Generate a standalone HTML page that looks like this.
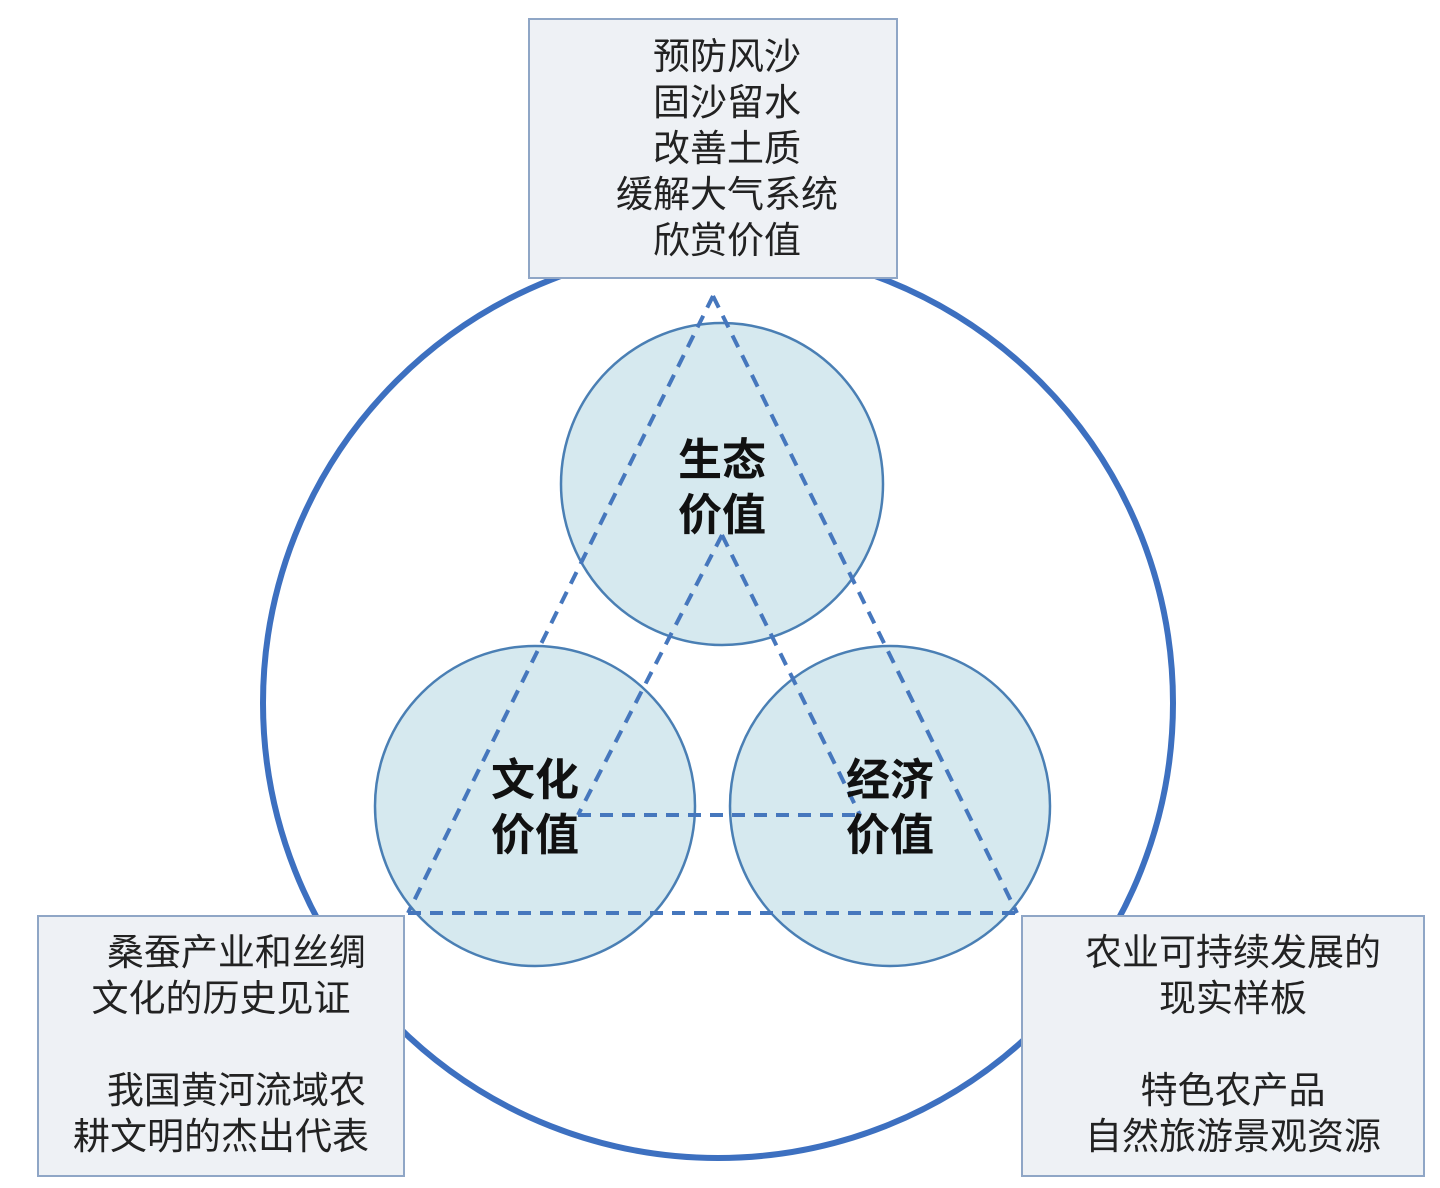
<!DOCTYPE html>
<html><head><meta charset="utf-8"><style>
body{margin:0;background:#fff;width:1440px;height:1188px;overflow:hidden;position:relative;font-family:"Liberation Sans","Noto Sans CJK SC",sans-serif}
.box{position:absolute;background:#eef1f5;border:2px solid #8fa6c6;box-sizing:border-box;color:#222;font-size:37px;line-height:46px;text-align:center}
</style></head><body>
<svg width="1440" height="1188" style="position:absolute;left:0;top:0">
<circle cx="718" cy="703" r="455" fill="none" stroke="#3d70c0" stroke-width="6"/>
<g fill="#d6e9ef" stroke="#4a7fb4" stroke-width="2.5">
<circle cx="722" cy="484" r="161"/>
<circle cx="535" cy="806" r="160"/>
<circle cx="890" cy="806" r="160"/>
</g>
<g fill="none" stroke="#4677bd" stroke-width="4" stroke-dasharray="13 9">
<line x1="713" y1="296" x2="408" y2="913"/>
<line x1="713" y1="296" x2="1017" y2="913"/>
<line x1="408" y1="913" x2="1017" y2="913"/>
<line x1="722" y1="535" x2="578" y2="815"/>
<line x1="722" y1="535" x2="860" y2="815"/>
<line x1="578" y1="815" x2="860" y2="815"/>
</g>
<g font-family="Liberation Sans,Noto Sans CJK SC,sans-serif" font-weight="bold" font-size="44" fill="#111" text-anchor="middle">
<text x="722" y="475">生态</text><text x="722" y="530">价值</text>
<text x="535" y="795">文化</text><text x="535" y="850">价值</text>
<text x="890" y="795">经济</text><text x="890" y="850">价值</text>
</g>
</svg>
<div class="box" style="left:528px;top:18px;width:370px;height:261px;padding-top:14px;padding-left:28px">预防风沙<br>固沙留水<br>改善土质<br>缓解大气系统<br>欣赏价值</div>
<div class="box" style="left:37px;top:915px;width:368px;height:262px;padding-top:13px">&nbsp;&nbsp;&nbsp;桑蚕产业和丝绸<br>文化的历史见证<br><br>&nbsp;&nbsp;&nbsp;我国黄河流域农<br>耕文明的杰出代表</div>
<div class="box" style="left:1021px;top:915px;width:404px;height:262px;padding-top:13px;padding-left:20px">农业可持续发展的<br>现实样板<br><br>特色农产品<br>自然旅游景观资源</div>
</body></html>
